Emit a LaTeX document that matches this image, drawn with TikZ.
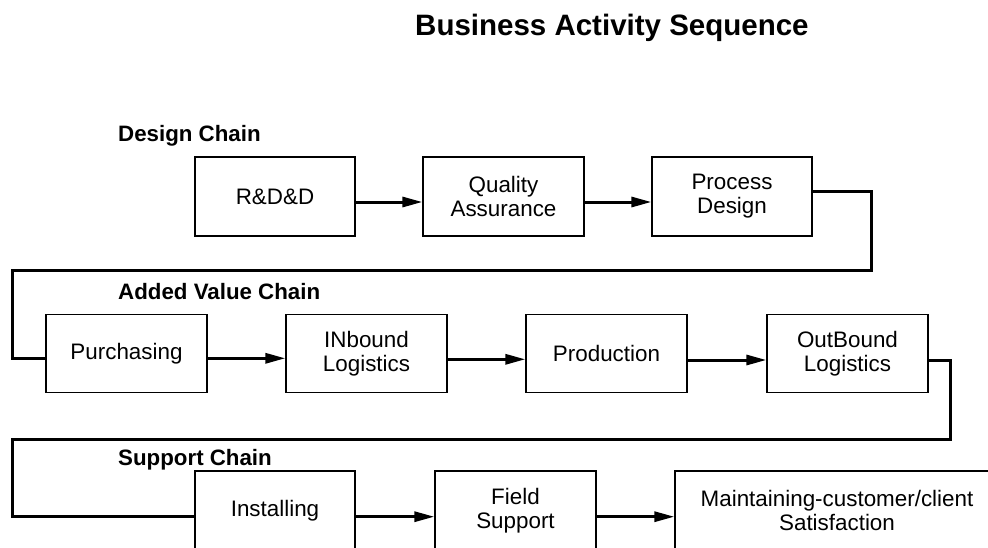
\documentclass[tikz,border=0pt]{standalone}
\usepackage{fontspec}
\setmainfont{Liberation Sans}
\usetikzlibrary{arrows.meta}

\tikzset{
  stepbox/.style={draw=black, line width=1.2pt, fill=white, inner sep=0pt,
    minimum width=161pt, minimum height=79pt, align=center,
    font=\fontsize{22.4}{24}\selectfont},
  chainlabel/.style={anchor=base west, inner sep=0pt,
    font=\fontsize{22.3}{26}\selectfont\bfseries},
  conn/.style={line width=3pt, draw=black},
  flow/.style={conn, -{Triangle[length=20pt, width=10pt]}}
}

\begin{document}
\begin{tikzpicture}[x=1pt, y=-1pt]
  \clip (0,0) rectangle (988,547);
  \fill[white] (0,0) rectangle (988,547);

  % title
  \node[anchor=base west, inner sep=0pt, font=\fontsize{29.5}{34}\selectfont\bfseries]
    (title) at (415,35) {Business Activity Sequence};

  % chain headings
  \node[chainlabel] (lblDesign)  at (118,141.7) {Design Chain};
  \node[chainlabel] (lblAdded)   at (118,299.7) {Added Value Chain};
  \node[chainlabel] (lblSupport) at (118,465.7) {Support Chain};

  % design chain
  \node[stepbox, minimum width=160pt] (rdd) at (275,196.5) {R\&D\&D};
  \node[stepbox] (qa)  at (503.5,196.5) {Quality\\Assurance};
  \node[stepbox, minimum width=160pt] (pd)  at (732,196.5) {Process\\Design};

  % added value chain
  \node[stepbox, minimum height=78pt] (pur)  at (126.5,353.6) {Purchasing};
  \node[stepbox, minimum height=78pt] (inb)  at (366.5,353.6) {INbound\\Logistics};
  \node[stepbox, minimum height=78pt] (prod) at (606.5,353.6) {Production};
  \node[stepbox, minimum height=78pt] (outb) at (847.5,353.6) {OutBound\\Logistics};

  % support chain
  \node[stepbox, minimum width=160pt] (inst)  at (275,510.5) {Installing};
  \node[stepbox] (field) at (515.5,510.5) {Field\\Support};
  \node[stepbox, minimum width=324pt] (maint) at (837,510.5) {Maintaining-customer/client\\Satisfaction};

  % routing corners between chains
  \coordinate (r1a) at (871,191.7);
  \coordinate (r1b) at (871,270);
  \coordinate (r1c) at (12,270);
  \coordinate (r1d) at (12,358);
  \coordinate (r2a) at (950,360);
  \coordinate (r2b) at (950,439);
  \coordinate (r2c) at (12,439);
  \coordinate (r2d) at (12,516.7);

  % flows within the design chain
  \draw[flow] (rdd.east |- 0,202) -- (qa.west |- 0,202);
  \draw[flow] (qa.east |- 0,202) -- (pd.west |- 0,202);

  % design chain to added value chain
  \draw[conn, line join=miter] (pd.east |- r1a) -- (r1a) -- (r1b) -- (r1c) -- (r1d) -- (pur.west |- r1d);

  % flows within the added value chain
  \draw[flow] (pur.east |- 0,358.3) -- (inb.west |- 0,358.3);
  \draw[flow] (inb.east |- 0,359.3) -- (prod.west |- 0,359.3);
  \draw[flow] (prod.east |- 0,360) -- (outb.west |- 0,360);

  % added value chain to support chain
  \draw[conn, line join=miter] (outb.east |- r2a) -- (r2a) -- (r2b) -- (r2c) -- (r2d) -- (inst.west |- r2d);

  % flows within the support chain
  \draw[flow] (inst.east |- r2d) -- (field.west |- r2d);
  \draw[flow] (field.east |- r2d) -- (maint.west |- r2d);
\end{tikzpicture}
\end{document}
